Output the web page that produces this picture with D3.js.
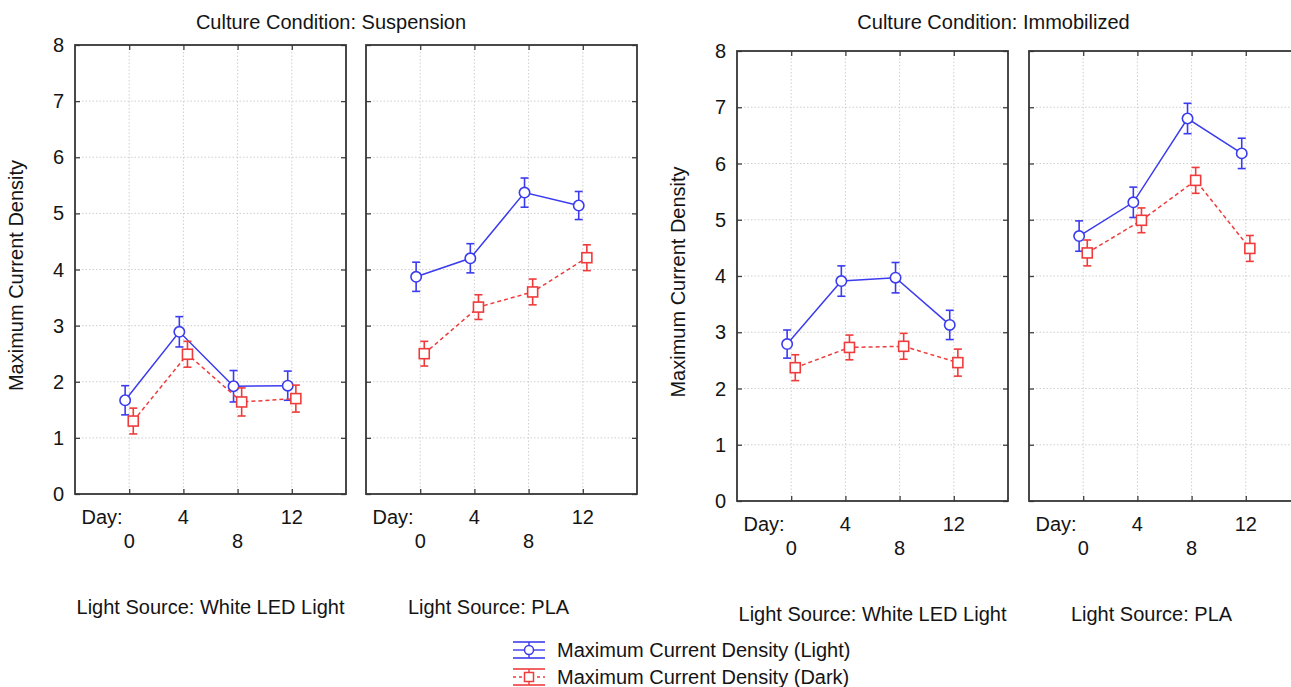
<!DOCTYPE html>
<html>
<head>
<meta charset="utf-8">
<script src="https://cdn.jsdelivr.net/npm/d3@7"></script>
<style>
  body { margin: 0; background: #fff; }
  svg text { font-family: "Liberation Sans", Arial, sans-serif; fill: #141414; }
</style>
</head>
<body>
<svg id="chart"></svg>
<script>
// data
const days = [0, 4, 8, 12];
const yTicks = [0, 1, 2, 3, 4, 5, 6, 7, 8];
const topRowDays = [4, 12];
const bottomRowDays = [0, 8];

const groupTitles = ['Culture Condition: Suspension', 'Culture Condition: Immobilized'];
const lightSources = ['Light Source: White LED Light', 'Light Source: PLA'];
const seriesNames = ['Maximum Current Density (Light)', 'Maximum Current Density (Dark)'];
const yLabel = 'Maximum Current Density';

// suspension
const suspLedLight = [1.67, 2.89, 1.92, 1.93];
const suspLedLightErr = [0.26, 0.27, 0.28, 0.26];
const suspLedDark = [1.30, 2.49, 1.64, 1.70];
const suspLedDarkErr = [0.23, 0.23, 0.25, 0.24];
const suspPlaLight = [3.87, 4.20, 5.37, 5.14];
const suspPlaLightErr = [0.26, 0.26, 0.26, 0.25];
const suspPlaDark = [2.50, 3.33, 3.60, 4.21];
const suspPlaDarkErr = [0.22, 0.22, 0.23, 0.23];

// immobilized
const immoLedLight = [2.79, 3.91, 3.97, 3.13];
const immoLedLightErr = [0.25, 0.27, 0.27, 0.26];
const immoLedDark = [2.37, 2.73, 2.75, 2.46];
const immoLedDarkErr = [0.23, 0.22, 0.23, 0.24];
const immoPlaLight = [4.71, 5.31, 6.80, 6.18];
const immoPlaLightErr = [0.27, 0.27, 0.27, 0.27];
const immoPlaDark = [4.41, 4.99, 5.70, 4.49];
const immoPlaDarkErr = [0.23, 0.22, 0.23, 0.23];

// layout
const width = 1291;
const height = 687;
const panelWidth = 271;
const blue = '#3b3bef';
const red = '#ef3b3b';

const panels = [
  { x: 75, top: 45, bottom: 494, source: 0, yAxis: true,
    light: suspLedLight, lightErr: suspLedLightErr, dark: suspLedDark, darkErr: suspLedDarkErr },
  { x: 366, top: 45, bottom: 494, source: 1, yAxis: false,
    light: suspPlaLight, lightErr: suspPlaLightErr, dark: suspPlaDark, darkErr: suspPlaDarkErr },
  { x: 737, top: 51, bottom: 501, source: 0, yAxis: true,
    light: immoLedLight, lightErr: immoLedLightErr, dark: immoLedDark, darkErr: immoLedDarkErr },
  { x: 1029, top: 51, bottom: 501, source: 1, yAxis: false,
    light: immoPlaLight, lightErr: immoPlaLightErr, dark: immoPlaDark, darkErr: immoPlaDarkErr }
];

const svg = d3.select('#chart')
  .attr('width', width)
  .attr('height', height);

const drawPanel = (p) => {
  const xScale = d3.scaleLinear().domain([-4, 16]).range([p.x, p.x + panelWidth]);
  const yScale = d3.scaleLinear().domain([0, 8]).range([p.bottom, p.top]);
  const g = svg.append('g');

  // grid
  g.selectAll('.hgrid')
    .data(yTicks.slice(1, -1))
    .enter()
    .append('line')
    .attr('x1', p.x).attr('x2', p.x + panelWidth)
    .attr('y1', (d) => yScale(d)).attr('y2', (d) => yScale(d))
    .attr('stroke', '#cfcfcf')
    .attr('stroke-dasharray', '1.5,2');

  g.selectAll('.vgrid')
    .data(days)
    .enter()
    .append('line')
    .attr('x1', (d) => xScale(d)).attr('x2', (d) => xScale(d))
    .attr('y1', p.top).attr('y2', p.bottom)
    .attr('stroke', '#cfcfcf')
    .attr('stroke-dasharray', '1.5,2');

  // inward ticks
  const tickAxes = [
    [d3.axisBottom(xScale).tickValues(days), `translate(0, ${p.bottom})`],
    [d3.axisTop(xScale).tickValues(days), `translate(0, ${p.top})`],
    [d3.axisRight(yScale).tickValues(yTicks), `translate(${p.x + panelWidth}, 0)`],
    [d3.axisLeft(yScale).tickValues(yTicks), `translate(${p.x}, 0)`]
  ];
  tickAxes.forEach(([ax, tr]) => {
    const a = g.append('g')
      .attr('transform', tr)
      .call(ax.tickSize(-5).tickFormat(''));
    a.select('.domain').remove();
    a.selectAll('text').remove();
    a.selectAll('line').attr('stroke', '#404040').attr('stroke-width', 1.3);
  });

  // y tick labels only on the first panel of a group
  if (p.yAxis) {
    g.selectAll('.ylab')
      .data(yTicks)
      .enter()
      .append('text')
      .attr('x', p.x - 11)
      .attr('y', (d) => yScale(d))
      .attr('dy', '0.35em')
      .attr('text-anchor', 'end')
      .style('font-size', '20px')
      .text((d) => d);
  }

  // frame
  g.append('rect')
    .attr('x', p.x).attr('y', p.top)
    .attr('width', panelWidth).attr('height', p.bottom - p.top)
    .attr('fill', 'none')
    .attr('stroke', '#363636')
    .attr('stroke-width', 1.8);

  // x labels, two rows
  g.append('text')
    .attr('x', xScale(-2)).attr('y', p.bottom + 30)
    .attr('text-anchor', 'middle')
    .style('font-size', '20px')
    .text('Day:');
  g.selectAll('.toprow')
    .data(topRowDays)
    .enter()
    .append('text')
    .attr('x', (d) => xScale(d)).attr('y', p.bottom + 30)
    .attr('text-anchor', 'middle')
    .style('font-size', '20px')
    .text((d) => d);
  g.selectAll('.botrow')
    .data(bottomRowDays)
    .enter()
    .append('text')
    .attr('x', (d) => xScale(d)).attr('y', p.bottom + 54)
    .attr('text-anchor', 'middle')
    .style('font-size', '20px')
    .text((d) => d);

  // light source label
  g.append('text')
    .attr('x', p.x + panelWidth / 2 - (p.source === 1 ? 13 : 0))
    .attr('y', p.bottom + 120)
    .attr('text-anchor', 'middle')
    .style('font-size', '20px')
    .text(lightSources[p.source]);

  // series
  const series = [
    { vals: p.light, errs: p.lightErr, color: blue, shift: -0.3, dash: null, shape: 'circle' },
    { vals: p.dark, errs: p.darkErr, color: red, shift: 0.3, dash: '4,3', shape: 'square' }
  ];

  series.forEach((s) => {
    const pts = days.map((d, i) => ({ day: d + s.shift, v: s.vals[i], e: s.errs[i] }));
    const line = d3.line().x((d) => xScale(d.day)).y((d) => yScale(d.v));

    g.append('path')
      .datum(pts)
      .attr('d', line)
      .attr('fill', 'none')
      .attr('stroke', s.color)
      .attr('stroke-width', 1.5)
      .attr('stroke-dasharray', s.dash);

    // error bars
    const eb = g.selectAll(null).data(pts).enter().append('g')
      .attr('stroke', s.color).attr('stroke-width', 1.6);
    eb.append('line')
      .attr('x1', (d) => xScale(d.day)).attr('x2', (d) => xScale(d.day))
      .attr('y1', (d) => yScale(d.v - d.e)).attr('y2', (d) => yScale(d.v + d.e));
    eb.append('line')
      .attr('x1', (d) => xScale(d.day) - 4).attr('x2', (d) => xScale(d.day) + 4)
      .attr('y1', (d) => yScale(d.v + d.e)).attr('y2', (d) => yScale(d.v + d.e));
    eb.append('line')
      .attr('x1', (d) => xScale(d.day) - 4).attr('x2', (d) => xScale(d.day) + 4)
      .attr('y1', (d) => yScale(d.v - d.e)).attr('y2', (d) => yScale(d.v - d.e));

    // markers
    if (s.shape === 'circle') {
      g.selectAll(null).data(pts).enter().append('circle')
        .attr('cx', (d) => xScale(d.day)).attr('cy', (d) => yScale(d.v))
        .attr('r', 5.2)
        .attr('fill', '#fff').attr('stroke', s.color).attr('stroke-width', 1.6);
    } else {
      g.selectAll(null).data(pts).enter().append('rect')
        .attr('x', (d) => xScale(d.day) - 5).attr('y', (d) => yScale(d.v) - 5)
        .attr('width', 10).attr('height', 10)
        .attr('fill', '#fff').attr('stroke', s.color).attr('stroke-width', 1.6);
    }
  });
};

panels.forEach(drawPanel);

// group titles and y labels
[[panels[0], panels[1]], [panels[2], panels[3]]].forEach(([a, b], i) => {
  const center = (a.x + b.x + panelWidth) / 2;
  svg.append('text')
    .attr('x', center - 25).attr('y', 29)
    .attr('text-anchor', 'middle')
    .style('font-size', '20px')
    .text(groupTitles[i]);

  svg.append('text')
    .attr('transform', `translate(${a.x - 52}, ${(a.top + a.bottom) / 2 + 6}) rotate(-90)`)
    .attr('text-anchor', 'middle')
    .style('font-size', '20px')
    .text(yLabel);
});

// legend
const legend = svg.append('g');
const legendRows = [
  { name: seriesNames[0], color: blue, dash: null, shape: 'circle', mid: 650, text: 657 },
  { name: seriesNames[1], color: red, dash: '3,3', shape: 'square', mid: 677, text: 684 }
];
legendRows.forEach((r) => {
  const x0 = 513, x1 = 545, cx = 529;
  legend.append('line').attr('x1', x0).attr('x2', x1).attr('y1', r.mid - 8).attr('y2', r.mid - 8)
    .attr('stroke', r.color).attr('stroke-width', 1.6);
  legend.append('line').attr('x1', x0).attr('x2', x1).attr('y1', r.mid + 8).attr('y2', r.mid + 8)
    .attr('stroke', r.color).attr('stroke-width', 1.6);
  legend.append('line').attr('x1', cx).attr('x2', cx).attr('y1', r.mid - 8).attr('y2', r.mid + 8)
    .attr('stroke', r.color).attr('stroke-width', 1.4);
  legend.append('line').attr('x1', x0).attr('x2', x1).attr('y1', r.mid).attr('y2', r.mid)
    .attr('stroke', r.color).attr('stroke-width', 1.4).attr('stroke-dasharray', r.dash);
  if (r.shape === 'circle') {
    legend.append('circle').attr('cx', cx).attr('cy', r.mid).attr('r', 4.5)
      .attr('fill', '#fff').attr('stroke', r.color).attr('stroke-width', 1.5);
  } else {
    legend.append('rect').attr('x', cx - 4.5).attr('y', r.mid - 4.5).attr('width', 9).attr('height', 9)
      .attr('fill', '#fff').attr('stroke', r.color).attr('stroke-width', 1.5);
  }
  legend.append('text')
    .attr('x', 557).attr('y', r.text)
    .style('font-size', '20px')
    .text(r.name);
});
</script>
</body>
</html>
